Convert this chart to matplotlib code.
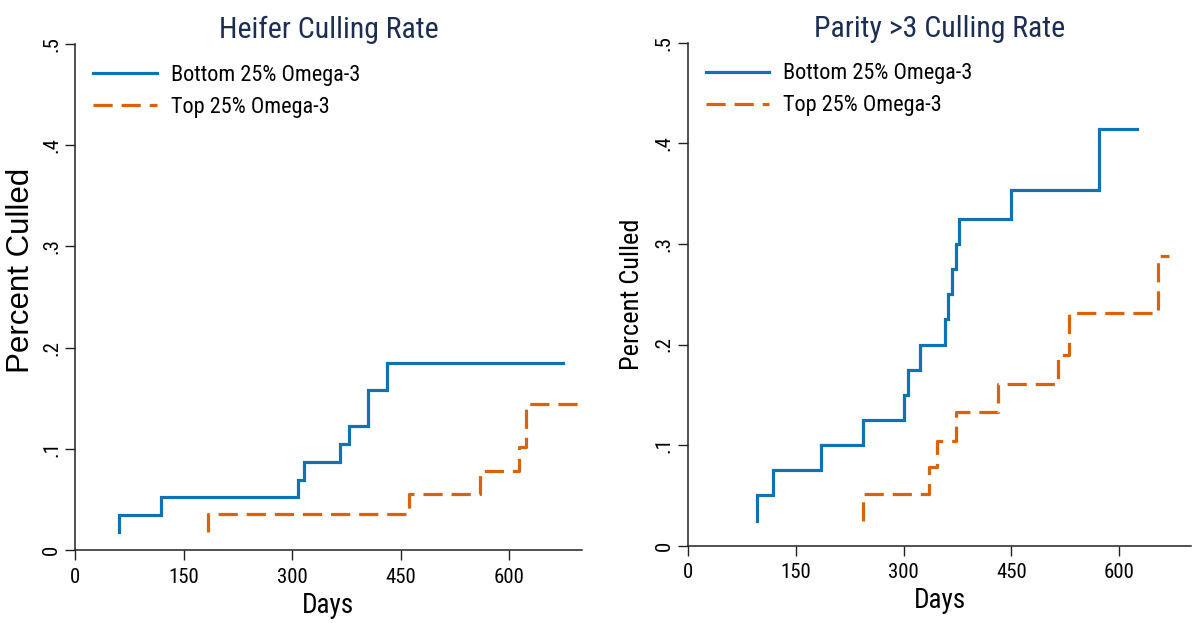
import matplotlib
matplotlib.use("Agg")
import matplotlib.pyplot as plt
from matplotlib import font_manager

# ---------------- data ----------------
xticks = [0, 150, 300, 450, 600]
yticks = [0, 0.1, 0.2, 0.3, 0.4, 0.5]
ytick_labels = ["0", ".1", ".2", ".3", ".4", ".5"]
series_labels = ["Bottom 25% Omega-3", "Top 25% Omega-3"]

# Heifer panel
heifer_bottom_start = 0.0175
heifer_bottom_days = [61, 119, 308, 316, 366, 379, 405, 431]
heifer_bottom_rate = [0.0344, 0.0522, 0.0694, 0.0869, 0.1048, 0.1223, 0.1584, 0.1851]
heifer_bottom_end = 674

heifer_top_start = 0.0175
heifer_top_days = [183, 461, 560, 614, 623]
heifer_top_rate = [0.0357, 0.0552, 0.0777, 0.1018, 0.1438]
heifer_top_end = 699

# Parity >3 panel
parity_bottom_start = 0.025
parity_bottom_days = [96, 118.5, 184.7, 243.6, 300.6, 305.7, 322.4, 357.1, 361.7,
                      366.9, 372.9, 376.6, 449.8, 572.1]
parity_bottom_rate = [0.05, 0.075, 0.1, 0.125, 0.15, 0.175, 0.2, 0.225, 0.25,
                      0.275, 0.3, 0.325, 0.3536, 0.4139]
parity_bottom_end = 624

parity_top_start = 0.025
parity_top_days = [243.6, 335.3, 346.5, 372.4, 430.8, 514.2, 530.0, 654.1]
parity_top_rate = [0.0514, 0.0782, 0.1041, 0.1326, 0.161, 0.1893, 0.2313, 0.2877]
parity_top_end = 669

# ---------------- styling ----------------
names = {f.name for f in font_manager.fontManager.ttflist}
NARROW = next((n for n in ["Roboto Condensed", "Archivo Narrow", "PT Sans Narrow"]
               if n in names), "Liberation Sans")
REG = "Liberation Sans"

BLUE = "#0f72b4"
ORANGE = "#d9620a"
TITLE_C = "#1c2d54"
AX_C = "#222222"


def km(start, days, rate, end):
    x = [days[0]] + list(days) + [end]
    y = [start] + list(rate) + [rate[-1]]
    return x, y


fig = plt.figure(figsize=(11.92, 6.23), dpi=100)
axL = fig.add_axes([75.2 / 1192, (623 - 550) / 623, 506.4 / 1192, 506 / 623])
axR = fig.add_axes([687.8 / 1192, (623 - 545.7) / 623, 503.5 / 1192, 503 / 623])

panels = [
    (axL, "Heifer Culling Rate",
     km(heifer_bottom_start, heifer_bottom_days, heifer_bottom_rate, heifer_bottom_end),
     km(heifer_top_start, heifer_top_days, heifer_top_rate, heifer_top_end),
     dict(family=REG, size=22.5), (-0.107, 0.553)),
    (axR, "Parity >3 Culling Rate",
     km(parity_bottom_start, parity_bottom_days, parity_bottom_rate, parity_bottom_end),
     km(parity_top_start, parity_top_days, parity_top_rate, parity_top_end),
     dict(family=NARROW, size=19), (-0.110, 0.5)),
]

for ax, title, (bx, by), (tx, ty), ylab_font, ylab_pos in panels:
    ax.step(bx, by, where="post", color=BLUE, lw=2.3, solid_joinstyle="miter",
            label=series_labels[0])
    ax.step(tx, ty, where="post", color=ORANGE, lw=2.3, dashes=(6, 2.8),
            label=series_labels[1])
    ax.set_xlim(0, 700)
    ax.set_ylim(0, 0.5)
    for s in ("top", "right"):
        ax.spines[s].set_visible(False)
    for s in ("left", "bottom"):
        ax.spines[s].set_color(AX_C)
        ax.spines[s].set_linewidth(1.1)
    ax.set_xticks(xticks)
    ax.set_xticklabels([str(v) for v in xticks], fontfamily=NARROW, fontsize=15)
    ax.set_yticks(yticks)
    ax.set_yticklabels(ytick_labels, fontfamily=NARROW, fontsize=15,
                       rotation=90, va="center")
    ax.tick_params(axis="x", length=7.2, width=1.0, pad=5.5, colors=AX_C,
                   labelcolor="black")
    ax.tick_params(axis="y", length=7.2, width=1.0, pad=3, colors=AX_C,
                   labelcolor="black")
    ax.text(0.5, 1.0117, title, transform=ax.transAxes, ha="center",
            va="baseline", fontfamily=NARROW, fontsize=21.5, color=TITLE_C)
    ax.text(0.5, -0.1245, "Days", transform=ax.transAxes, ha="center",
            va="baseline", fontfamily=NARROW, fontsize=19.5, color="black")
    ax.text(ylab_pos[0], ylab_pos[1], "Percent Culled", transform=ax.transAxes,
            ha="center", va="center", rotation=90, color="black",
            fontfamily=ylab_font["family"], fontsize=ylab_font["size"])
    leg = ax.legend(loc="upper left", bbox_to_anchor=(0.036, 0.959),
                    frameon=False, handlelength=2.85, handletextpad=0.62,
                    borderpad=0, borderaxespad=0, labelspacing=0.5,
                    prop=dict(family=NARROW, size=16))

fig.savefig("out.png", dpi=100)
